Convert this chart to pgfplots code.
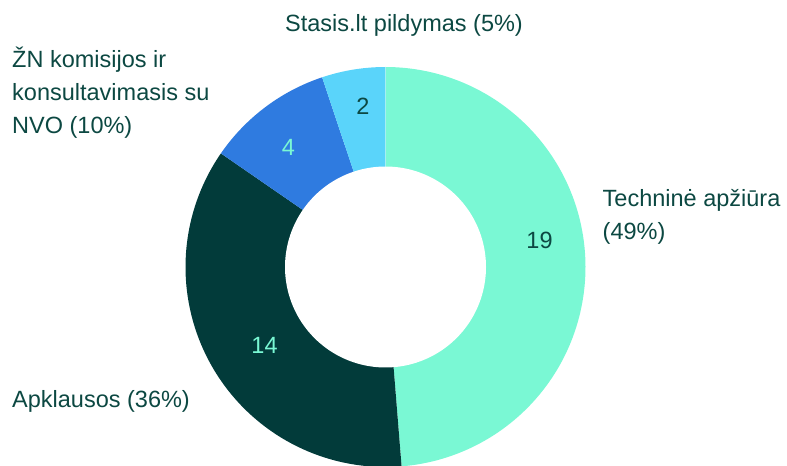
\documentclass[border=0pt]{standalone}
\usepackage{pgfplots}
\pgfplotsset{compat=1.18}
\usepackage{fontspec}
\setmainfont{Liberation Sans}
\definecolor{cmint}{RGB}{122,248,212}
\definecolor{cdark}{RGB}{2,59,58}
\definecolor{cblue}{RGB}{47,123,224}
\definecolor{ccyan}{RGB}{90,212,250}
\definecolor{ctext}{RGB}{12,72,66}
\tikzset{lbl/.style={inner sep=0pt, font=\fontsize{23.5bp}{33bp}\selectfont}}
\begin{document}
\begin{tikzpicture}
% data: Technine apziura 19, Apklausos 14, ZN komisijos 4, Stasis.lt 2
\def\vA{19}\def\vB{14}\def\vC{4}\def\vD{2}
\pgfmathsetmacro\tot{\vA+\vB+\vC+\vD}
\pgfmathsetmacro\aO{90}
\pgfmathsetmacro\aA{\aO-\vA/\tot*360}
\pgfmathsetmacro\aB{\aA-\vB/\tot*360}
\pgfmathsetmacro\aC{\aB-\vC/\tot*360}
\pgfmathsetmacro\aD{\aC-\vD/\tot*360}
\def\cx{385.5}\def\cy{199}\def\R{200}\def\r{100.5}
\path[use as bounding box] (0,0) rectangle (787bp,466bp);
\begin{axis}[hide axis, scale only axis, width=787bp, height=466bp,
  xmin=0, xmax=787, ymin=0, ymax=466, clip=false, anchor=south west, at={(0,0)}]
\addplot[fill=cmint, draw=none, domain=\aA:\aO, samples=120, variable=\t]
  ({\cx+\R*cos(t)},{\cy+\R*sin(t)}) -- (axis cs:\cx,\cy) -- cycle;
\addplot[fill=cdark, draw=none, domain=\aB:\aA, samples=100, variable=\t]
  ({\cx+\R*cos(t)},{\cy+\R*sin(t)}) -- (axis cs:\cx,\cy) -- cycle;
\addplot[fill=cblue, draw=none, domain=\aC:\aB, samples=40, variable=\t]
  ({\cx+\R*cos(t)},{\cy+\R*sin(t)}) -- (axis cs:\cx,\cy) -- cycle;
\addplot[fill=ccyan, draw=none, domain=\aD:\aC, samples=30, variable=\t]
  ({\cx+\R*cos(t)},{\cy+\R*sin(t)}) -- (axis cs:\cx,\cy) -- cycle;
\addplot[fill=white, draw=none, domain=0:360, samples=180, variable=\t]
  ({\cx+\r*cos(t)},{\cy+\r*sin(t)}) -- cycle;
% value labels
\node[lbl, text=ctext, anchor=center] at (axis cs:539.5,225.5) {19};
\node[lbl, text=cmint, anchor=center] at (axis cs:264.5,121) {14};
\node[lbl, text=cmint, anchor=center] at (axis cs:288.5,319) {4};
\node[lbl, text=ctext, anchor=center] at (axis cs:363,360) {2};
% category labels
\node[lbl, text=ctext, anchor=base] at (axis cs:404,434) {Stasis.lt pildymas (5\%)};
\node[lbl, text=ctext, anchor=base west] at (axis cs:12,398) {ŽN komisijos ir};
\node[lbl, text=ctext, anchor=base west] at (axis cs:12,365) {konsultavimasis su};
\node[lbl, text=ctext, anchor=base west] at (axis cs:12,332) {NVO (10\%)};
\node[lbl, text=ctext, anchor=base west] at (axis cs:602.5,259) {Techninė apžiūra};
\node[lbl, text=ctext, anchor=base west] at (axis cs:602.5,226) {(49\%)};
\node[lbl, text=ctext, anchor=base west] at (axis cs:12,58) {Apklausos (36\%)};
\end{axis}
\end{tikzpicture}
\end{document}
